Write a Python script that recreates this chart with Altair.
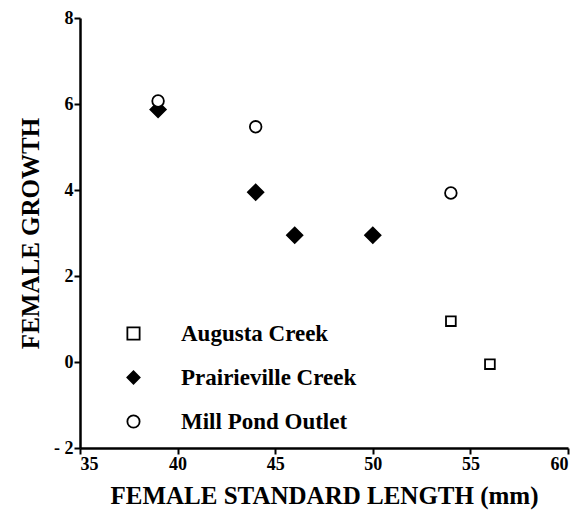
import altair as alt
import pandas as pd

sites = ["Augusta Creek", "Prairieville Creek", "Mill Pond Outlet"]

augusta_x = [54, 56]
augusta_y = [0.95, -0.05]
prairie_x = [39, 44, 46, 50]
prairie_y = [5.87, 3.95, 2.95, 2.95]
mill_x = [39, 44, 54]
mill_y = [6.07, 5.47, 3.93]

x_ticks = [35, 40, 45, 50, 55, 60]
y_ticks = [-2, 0, 2, 4, 6, 8]

rows = []
for s, xs, ys in [(sites[0], augusta_x, augusta_y),
                  (sites[1], prairie_x, prairie_y),
                  (sites[2], mill_x, mill_y)]:
    for a, b in zip(xs, ys):
        rows.append({"site": s, "length": a, "growth": b})
df = pd.DataFrame(rows)

FONT = "Liberation Serif"
mark_sizes = {sites[0]: 95, sites[1]: 240, sites[2]: 135}

base = alt.Chart(df).encode(
    x=alt.X("length:Q",
            scale=alt.Scale(domain=[35, 60], nice=False, zero=False),
            axis=alt.Axis(values=x_ticks, title="FEMALE STANDARD LENGTH (mm)",
                          titlePadding=10, labelFont=FONT, titleFont=FONT)),
    y=alt.Y("growth:Q",
            scale=alt.Scale(domain=[-2, 8], nice=False, zero=False),
            axis=alt.Axis(values=y_ticks, title="FEMALE GROWTH",
                          labelExpr="datum.value < 0 ? '- ' + abs(datum.value) : datum.label",
                          titlePadding=10, labelFont=FONT, titleFont=FONT)),
    shape=alt.Shape("site:N", scale=alt.Scale(domain=sites, range=["square", "diamond", "circle"]),
                    title=None),
    fill=alt.Fill("site:N", scale=alt.Scale(domain=sites, range=["white", "black", "white"]),
                  title=None),
    stroke=alt.Stroke("site:N", scale=alt.Scale(domain=sites, range=["black", "black", "black"]),
                      title=None),
)

layers = [
    base.transform_filter(alt.datum.site == s).mark_point(
        size=mark_sizes[s], strokeWidth=1.8, opacity=1, fillOpacity=1)
    for s in sites
]

chart = alt.layer(*layers).properties(
    width=488, height=430,
    autosize=alt.AutoSizeParams(type="none"),
    padding={"left": 72, "top": 10, "right": 4, "bottom": 80},
).configure_view(
    stroke=None
).configure_axis(
    grid=False,
    domainColor="black", domainWidth=2.5,
    tickColor="black", tickWidth=2, tickSize=6,
    labelFont=FONT, labelFontSize=18, labelFontWeight="bold", labelColor="black",
    labelPadding=1,
    titleFont=FONT, titleFontSize=25, titleFontWeight="bold", titleColor="black",
).configure_legend(
    orient="none", legendX=42, legendY=304,
    labelFont=FONT, labelFontSize=23, labelFontWeight="bold", labelColor="black",
    labelOffset=36, rowPadding=20, padding=0, labelLimit=400,
    symbolSize=150, symbolStrokeWidth=1.8,
)

chart.save("out.html", embed_options={"renderer": "svg", "actions": False})
